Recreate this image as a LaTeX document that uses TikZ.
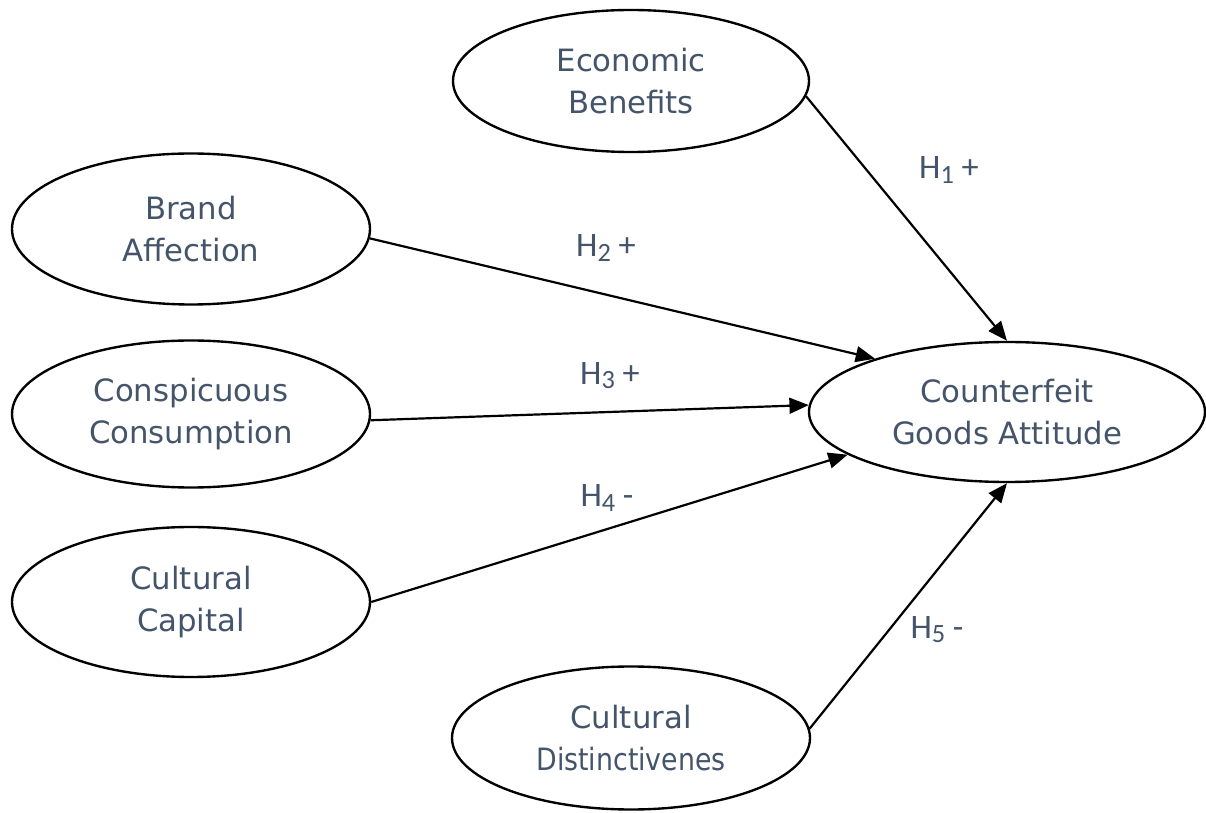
\documentclass[tikz,border=0pt]{standalone}
\usepackage{fontspec}
\setmainfont{DejaVu Sans}
\newfontfamily\labfont{Carlito}
\usepackage{xcolor}
\usetikzlibrary{shapes.geometric,arrows.meta,positioning}
\definecolor{TextSlate}{RGB}{68,84,106}
\newcommand{\hsub}[1]{\raisebox{-0.12em}{\fontsize{15pt}{15pt}\selectfont #1}}
\tikzset{
  cbox/.style={draw=black,ellipse,line width=1.35pt,inner sep=0pt,
               minimum width=7.16cm,minimum height=2.98cm,align=center,
               text=TextSlate,font=\fontsize{17.5pt}{24pt}\selectfont},
  hlab/.style={text=TextSlate,font=\labfont\fontsize{19.5pt}{22pt}\selectfont,
               inner sep=0pt},
  arr/.style={-{Triangle[length=11pt,width=9pt]},black,line width=1.25pt},
}

\begin{document}
\begin{tikzpicture}
        \useasboundingbox (0,0) rectangle (24.12,16.24);
        \node[cbox,minimum width=7.12cm,minimum height=2.84cm] (eco) at (12.62,14.62) {Economic\\Benefits};
        \node[cbox,minimum height=3.02cm] (brand) at (3.82,11.66) {Brand\\Affection};
        \node[cbox,minimum height=2.94cm] (consp) at (3.82,7.96) {Conspicuous\\Consumption};
        \node[cbox,minimum height=3cm] (capit) at (3.82,4.20) {Cultural\\Capital};
        \node[cbox,minimum height=2.86cm] (dist) at (12.62,1.48) {Cultural\\\scalebox{0.87}[1]{Distinctivenes}};
        \node[cbox,minimum width=7.92cm,minimum height=2.8cm] (cga) at (20.14,8.00) {Counterfeit\\Goods Attitude};
        \draw[arr] (eco.-5)--(cga.north);
        \draw[arr] (brand.-3)--(cga.158);
        \draw[arr] (consp.-2)--(cga.178);
        \draw[arr] (capit.0)--(cga.195);
        \draw[arr] (dist.3)--(cga.south);
        \node[hlab] (h1) at (18.98,12.84) {H\hsub{1} +};
        \node[hlab] (h2) at (12.12,11.28) {H\hsub{2} +};
        \node[hlab] (h3) at (12.20,8.72) {H\hsub{3} +};
        \node[hlab] (h4) at (12.14,6.28) {H\hsub{4} -};
        \node[hlab] (h5) at (18.74,3.64) {H\hsub{5} -};
      \end{tikzpicture}
\end{document}
